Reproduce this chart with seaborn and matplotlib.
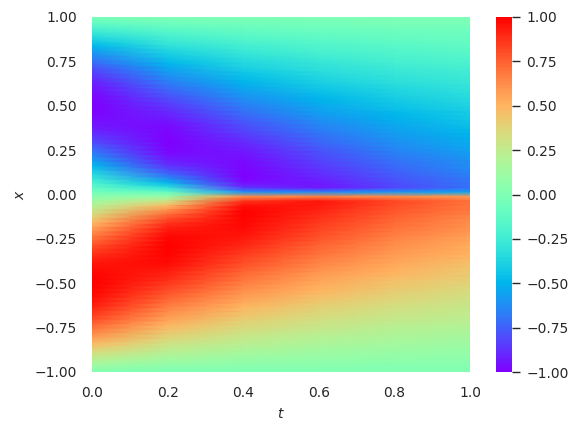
import numpy as np
import pandas as pd
import matplotlib
matplotlib.use("Agg")
import matplotlib.pyplot as plt
import seaborn as sns

t_levels = [0.0, 0.2, 0.4, 0.6, 0.8, 1.0]
x_levels = np.round(1.0125 - 0.025 * np.arange(82), 4)

# values, one list per t, from x = 1.0125 down to x = -1.0125
u_t00 = [0.0,
         -.04, -.12, -.20, -.27, -.35, -.42, -.49, -.56, -.62, -.68, -.73, -.79, -.83, -.87, -.91, -.94, -.96, -.98, -.99, -1.0,
         -1.0, -.99, -.98, -.96, -.94, -.91, -.87, -.83, -.79, -.73, -.68, -.62, -.56, -.49, -.42, -.35, -.27, -.20, -.12, -.04,
         .04, .12, .20, .27, .35, .42, .49, .56, .62, .68, .73, .79, .83, .87, .91, .94, .96, .98, .99, 1.0,
         1.0, .99, .98, .96, .94, .91, .87, .83, .79, .73, .68, .62, .56, .49, .42, .35, .27, .20, .12, .04,
         0.0]
u_t02 = [0.0,
         -.02, -.07, -.12, -.17, -.22, -.26, -.31, -.36, -.40, -.45, -.49, -.54, -.58, -.62, -.66, -.70, -.74, -.77, -.81, -.84,
         -.87, -.90, -.92, -.95, -.97, -.98, -.99, -1.0, -1.0, -.99, -.98, -.95, -.92, -.87, -.80, -.72, -.61, -.47, -.30, -.10,
         .10, .30, .47, .61, .72, .80, .87, .92, .95, .98, .99, 1.0, 1.0, .99, .98, .97, .95, .92, .90, .87,
         .84, .81, .77, .74, .70, .66, .62, .58, .54, .49, .45, .40, .36, .31, .26, .22, .17, .12, .07, .02,
         0.0]
u_t04 = [0.0,
         -.02, -.05, -.09, -.12, -.16, -.19, -.23, -.26, -.29, -.33, -.36, -.39, -.43, -.46, -.49, -.53, -.56, -.59, -.62, -.65,
         -.68, -.71, -.74, -.77, -.80, -.82, -.85, -.87, -.90, -.92, -.94, -.96, -.97, -.98, -.99, -1.0, -.99, -.96, -.86, -.60,
         .62, .86, .96, .99, 1.0, .99, .98, .97, .96, .94, .92, .90, .87, .85, .82, .80, .77, .74, .71, .68,
         .65, .62, .59, .56, .53, .49, .46, .43, .39, .36, .33, .29, .26, .23, .19, .16, .12, .09, .05, .02,
         0.0]
u_t06 = [0.0,
         -.01, -.04, -.07, -.10, -.12, -.15, -.18, -.20, -.23, -.26, -.29, -.31, -.34, -.36, -.39, -.42, -.44, -.47, -.50, -.52,
         -.55, -.57, -.60, -.62, -.65, -.67, -.70, -.72, -.74, -.77, -.79, -.81, -.83, -.85, -.87, -.89, -.91, -.93, -.94, -.62,
         .65, .94, .93, .91, .89, .87, .85, .83, .81, .79, .77, .74, .72, .70, .67, .65, .62, .60, .57, .55,
         .52, .50, .47, .44, .42, .39, .36, .34, .31, .29, .26, .23, .20, .18, .15, .12, .10, .07, .04, .01,
         0.0]
u_t08 = [0.0,
         -.01, -.03, -.06, -.08, -.10, -.12, -.15, -.17, -.19, -.21, -.23, -.26, -.28, -.30, -.32, -.35, -.37, -.39, -.41, -.43,
         -.45, -.48, -.50, -.52, -.54, -.56, -.58, -.60, -.62, -.64, -.66, -.68, -.70, -.72, -.74, -.76, -.78, -.80, -.82, -.58,
         .62, .82, .80, .78, .76, .74, .72, .70, .68, .66, .64, .62, .60, .58, .56, .54, .52, .50, .48, .45,
         .43, .41, .39, .37, .35, .32, .30, .28, .26, .23, .21, .19, .17, .15, .12, .10, .08, .06, .03, .01,
         0.0]
u_t10 = [0.0,
         -.01, -.03, -.05, -.07, -.09, -.10, -.12, -.14, -.16, -.18, -.20, -.22, -.24, -.26, -.27, -.29, -.31, -.33, -.35, -.37,
         -.39, -.41, -.42, -.44, -.46, -.48, -.50, -.52, -.53, -.55, -.57, -.59, -.61, -.62, -.64, -.66, -.68, -.69, -.71, -.55,
         .58, .71, .69, .68, .66, .64, .62, .61, .59, .57, .55, .53, .52, .50, .48, .46, .44, .42, .41, .39,
         .37, .35, .33, .31, .29, .27, .26, .24, .22, .20, .18, .16, .14, .12, .10, .09, .07, .05, .03, .01,
         0.0]

t_ticks = [0.0, 0.2, 0.4, 0.6, 0.8, 1.0]
x_ticks = [-1.0, -0.75, -0.5, -0.25, 0.0, 0.25, 0.5, 0.75, 1.0]
cbar_ticks = [-1.0, -0.75, -0.5, -0.25, 0.0, 0.25, 0.5, 0.75, 1.0]

sns.set_theme(style="white", font="DejaVu Sans", rc={"font.size": 10})

df = pd.DataFrame(
    np.column_stack([u_t00, u_t02, u_t04, u_t06, u_t08, u_t10]),
    index=x_levels,
    columns=t_levels,
)

fig = plt.figure(figsize=(5.82, 4.34), dpi=100)
ax = fig.add_axes([92 / 582, 62 / 434, 378 / 582, 355 / 434])
cax = fig.add_axes([496 / 582, 62 / 434, 16 / 582, 355 / 434])

# pcolormesh kwargs go straight through heatmap, gouraud gives the smooth look
sns.heatmap(
    df,
    ax=ax,
    cbar_ax=cax,
    cmap="rainbow",
    vmin=-1,
    vmax=1,
    xticklabels=False,
    yticklabels=False,
    shading="gouraud",
    cbar_kws={"ticks": cbar_ticks},
)

# heatmap positions are row/column numbers, map the real values on to them
col_pos = np.arange(len(t_levels))
row_pos = np.arange(len(x_levels))
to_col = lambda v: np.interp(v, t_levels, col_pos)
to_row = lambda v: np.interp(v, x_levels[::-1], row_pos[::-1])

ax.set_xlim(to_col(0.0), to_col(1.0))
ax.set_ylim(to_row(-1.0), to_row(1.0))
ax.set_xticks(to_col(t_ticks))
ax.set_xticklabels([f"{v:.1f}" for v in t_ticks])
ax.set_yticks(to_row(x_ticks))
ax.set_yticklabels([f"{v:.2f}".replace("-", "\u2212") for v in x_ticks], rotation=0)
ax.tick_params(axis="x", length=0, pad=10, labelsize=10, labelbottom=True, bottom=False)
ax.tick_params(axis="y", length=0, pad=11, labelsize=10, labelleft=True, left=False)
ax.set_xlabel("$t$", fontsize=10, labelpad=5)
ax.set_ylabel("$x$", fontsize=10, labelpad=5)

cax.tick_params(axis="y", length=5.5, width=1, pad=5, labelsize=10, color="#262626", right=True)
cax.set_yticklabels([f"{v:.2f}".replace("-", "\u2212") for v in cbar_ticks])

fig.savefig("out.png", dpi=100)
